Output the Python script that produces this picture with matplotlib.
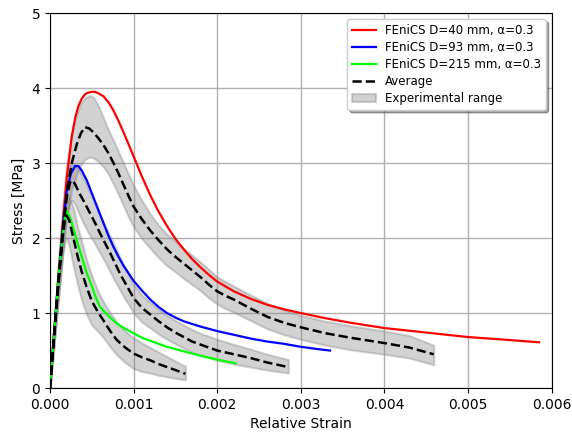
import matplotlib
matplotlib.use('Agg')
import matplotlib.pyplot as plt

# FEniCS simulations
red_strain = [0, 0.00005, 0.0001, 0.00015, 0.0002, 0.00026, 0.0003, 0.00034, 0.00038, 0.00042,
              0.00046, 0.0005, 0.00054, 0.00058, 0.00064, 0.0007, 0.00076, 0.00082, 0.00088, 0.00094,
              0.001, 0.0011, 0.0012, 0.0013, 0.0014, 0.0015, 0.0016, 0.0017, 0.0018, 0.0019,
              0.002, 0.0022, 0.0024, 0.0026, 0.0028, 0.003, 0.0033, 0.0036, 0.004, 0.0045,
              0.005, 0.0055, 0.00585]
red_stress = [0, 0.75, 1.45, 2.15, 2.8, 3.35, 3.6, 3.76, 3.86, 3.92,
              3.94, 3.95, 3.95, 3.93, 3.89, 3.81, 3.7, 3.56, 3.41, 3.25,
              3.09, 2.82, 2.57, 2.35, 2.16, 1.99, 1.85, 1.72, 1.61, 1.51,
              1.42, 1.29, 1.19, 1.11, 1.05, 1.0, 0.93, 0.87, 0.8, 0.74,
              0.68, 0.64, 0.61]

blue_strain = [0, 0.00005, 0.0001, 0.00015, 0.0002, 0.00025, 0.0003, 0.00034, 0.00038, 0.00044,
               0.0005, 0.00058, 0.00064, 0.0007, 0.00076, 0.00082, 0.00088, 0.00094, 0.001, 0.0011,
               0.0012, 0.0013, 0.0014, 0.0015, 0.0016, 0.0018, 0.002, 0.0022, 0.0024, 0.0026,
               0.0028, 0.003, 0.0032, 0.00335]
blue_stress = [0, 0.75, 1.45, 2.1, 2.62, 2.86, 2.96, 2.96, 2.9, 2.77,
               2.6, 2.37, 2.2, 2.03, 1.88, 1.75, 1.63, 1.53, 1.43, 1.3,
               1.18, 1.08, 1.0, 0.94, 0.89, 0.82, 0.76, 0.71, 0.66, 0.62,
               0.59, 0.55, 0.52, 0.5]

green_strain = [0, 0.00005, 0.0001, 0.00015, 0.00018, 0.0002, 0.00023, 0.00026, 0.00032, 0.00038,
                0.00044, 0.0005, 0.00055, 0.0006, 0.0007, 0.0008, 0.0009, 0.001, 0.0011, 0.0012,
                0.0014, 0.0016, 0.0018, 0.002, 0.00222]
green_stress = [0, 0.75, 1.45, 2.05, 2.28, 2.36, 2.3, 2.2, 1.97, 1.75,
                1.53, 1.36, 1.2, 1.08, 0.96, 0.86, 0.79, 0.73, 0.67, 0.63,
                0.55, 0.49, 0.43, 0.38, 0.33]

# experiments: average curve and min / max of the range
exp1_strain = [0, 0.00005, 0.0001, 0.00015, 0.0002, 0.00026, 0.00032, 0.00037, 0.00042, 0.00047,
               0.00052, 0.00058, 0.00064, 0.0007, 0.00076, 0.00082, 0.00088, 0.00094, 0.001, 0.0011,
               0.0012, 0.0013, 0.0014, 0.0015, 0.0016, 0.0017, 0.0018, 0.0019, 0.002, 0.0021,
               0.0022, 0.0024, 0.0026, 0.0028, 0.003, 0.0033, 0.0036, 0.004, 0.0043, 0.00459]
exp1_avg = [0, 0.7, 1.4, 2.05, 2.6, 3.0, 3.25, 3.4, 3.48, 3.46,
            3.41, 3.33, 3.24, 3.13, 3.0, 2.86, 2.71, 2.56, 2.42, 2.25,
            2.1, 1.97, 1.85, 1.75, 1.66, 1.57, 1.48, 1.38, 1.29, 1.23,
            1.18, 1.06, 0.95, 0.87, 0.81, 0.73, 0.67, 0.6, 0.54, 0.45]
exp1_hi = [0, 0.85, 1.65, 2.4, 3.0, 3.4, 3.65, 3.8, 3.87, 3.9,
           3.88, 3.76, 3.6, 3.44, 3.3, 3.15, 3.0, 2.85, 2.7, 2.5,
           2.32, 2.17, 2.05, 1.95, 1.86, 1.77, 1.68, 1.58, 1.48, 1.42,
           1.36, 1.24, 1.13, 1.04, 0.97, 0.89, 0.83, 0.76, 0.7, 0.57]
exp1_lo = [0, 0.6, 1.2, 1.8, 2.3, 2.65, 2.85, 2.98, 3.05, 3.08,
           3.07, 3.02, 2.95, 2.85, 2.72, 2.58, 2.43, 2.28, 2.15, 1.99,
           1.86, 1.74, 1.63, 1.55, 1.46, 1.38, 1.3, 1.2, 1.12, 1.06,
           1.01, 0.9, 0.79, 0.71, 0.65, 0.57, 0.51, 0.45, 0.4, 0.31]

exp2_strain = [0, 0.00005, 0.0001, 0.00015, 0.0002, 0.00024, 0.00027, 0.0003, 0.00035, 0.0004,
               0.00047, 0.00054, 0.0006, 0.00066, 0.00072, 0.00078, 0.00084, 0.0009, 0.00095, 0.001,
               0.0011, 0.0012, 0.0013, 0.0014, 0.0015, 0.0016, 0.0017, 0.0018, 0.002, 0.0022,
               0.0024, 0.0026, 0.00285]
exp2_avg = [0, 0.72, 1.4, 2.05, 2.55, 2.74, 2.77, 2.72, 2.6, 2.5,
            2.35, 2.2, 2.06, 1.93, 1.8, 1.66, 1.52, 1.4, 1.3, 1.2,
            1.07, 0.98, 0.89, 0.81, 0.74, 0.68, 0.62, 0.58, 0.5, 0.45,
            0.4, 0.34, 0.28]
exp2_hi = [0, 0.85, 1.6, 2.3, 2.8, 2.98, 3.0, 2.98, 2.9, 2.8,
           2.63, 2.45, 2.3, 2.16, 2.02, 1.88, 1.74, 1.6, 1.5, 1.38,
           1.24, 1.14, 1.05, 0.97, 0.9, 0.84, 0.78, 0.73, 0.65, 0.58,
           0.52, 0.45, 0.38]
exp2_lo = [0, 0.6, 1.2, 1.8, 2.3, 2.48, 2.5, 2.45, 2.32, 2.2,
           2.05, 1.92, 1.8, 1.68, 1.55, 1.42, 1.3, 1.18, 1.1, 1.0,
           0.88, 0.8, 0.72, 0.65, 0.59, 0.53, 0.48, 0.44, 0.37, 0.32,
           0.28, 0.24, 0.2]

exp3_strain = [0, 0.00005, 0.0001, 0.00015, 0.00018, 0.0002, 0.00023, 0.00028, 0.00033, 0.00038,
               0.00044, 0.0005, 0.00057, 0.00064, 0.00072, 0.0008, 0.0009, 0.001, 0.0011, 0.0012,
               0.0013, 0.0014, 0.0015, 0.00162]
exp3_avg = [0, 0.72, 1.4, 2.0, 2.25, 2.3, 2.24, 2.0, 1.76, 1.55,
            1.34, 1.16, 1.02, 0.9, 0.76, 0.64, 0.54, 0.46, 0.41, 0.37,
            0.32, 0.28, 0.24, 0.19]
exp3_hi = [0, 0.85, 1.6, 2.25, 2.5, 2.58, 2.55, 2.4, 2.15, 1.95,
           1.7, 1.5, 1.3, 1.15, 1.0, 0.88, 0.76, 0.67, 0.6, 0.54,
           0.48, 0.42, 0.36, 0.29]
exp3_lo = [0, 0.6, 1.2, 1.75, 1.95, 2.0, 1.9, 1.62, 1.38, 1.17,
           0.98, 0.84, 0.76, 0.67, 0.55, 0.44, 0.34, 0.26, 0.22, 0.2,
           0.17, 0.15, 0.13, 0.11]

x_ticks = [0.000, 0.001, 0.002, 0.003, 0.004, 0.005, 0.006]
y_ticks = [0, 1, 2, 3, 4, 5]

fig = plt.figure(figsize=(5.72, 4.37), dpi=100)
ax = fig.add_axes([0.0874, 0.112, 0.877, 0.858])

experiments = [(exp1_strain, exp1_avg, exp1_lo, exp1_hi),
               (exp2_strain, exp2_avg, exp2_lo, exp2_hi),
               (exp3_strain, exp3_avg, exp3_lo, exp3_hi)]

for i, (s, avg, lo, hi) in enumerate(experiments):
    ax.fill_between(s, lo, hi, color='gray', alpha=0.35, linewidth=1.5,
                    label='Experimental range' if i == 0 else None, zorder=2)

ax.plot(red_strain, red_stress, color='red', lw=1.6, label='FEniCS D=40 mm, α=0.3', zorder=3)
ax.plot(blue_strain, blue_stress, color='blue', lw=1.6, label='FEniCS D=93 mm, α=0.3', zorder=3)
ax.plot(green_strain, green_stress, color='lime', lw=1.6, label='FEniCS D=215 mm, α=0.3', zorder=3)

for i, (s, avg, lo, hi) in enumerate(experiments):
    ax.plot(s, avg, color='black', ls='--', lw=1.8,
            label='Average' if i == 0 else None, zorder=4)

ax.set_xlim(0, 0.006)
ax.set_ylim(0, 5)
ax.set_xticks(x_ticks)
ax.set_xticklabels(['%.3f' % t for t in x_ticks])
ax.set_yticks(y_ticks)
ax.grid(True, color='#b0b0b0', lw=1)
ax.set_axisbelow(True)
ax.set_xlabel('Relative Strain')
ax.set_ylabel('Stress [MPa]')

handles, labels = ax.get_legend_handles_labels()
order = [labels.index(l) for l in ['FEniCS D=40 mm, α=0.3', 'FEniCS D=93 mm, α=0.3',
                                   'FEniCS D=215 mm, α=0.3', 'Average', 'Experimental range']]
ax.legend([handles[k] for k in order], [labels[k] for k in order],
          loc='upper right', fontsize=8.5, labelspacing=0.35, shadow=True, framealpha=1)

fig.savefig('out.png', dpi=100)
